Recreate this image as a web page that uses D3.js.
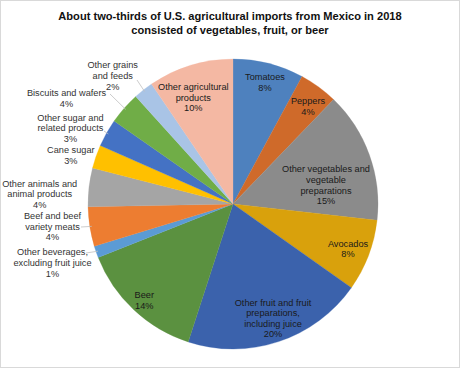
<!DOCTYPE html>
<html>
<head>
<meta charset="utf-8">
<script src="https://cdn.jsdelivr.net/npm/d3@7"></script>
<style>
  body { margin: 0; background: #fff; }
  svg { display: block; font-family: "Liberation Sans", Arial, sans-serif; }
</style>
</head>
<body>
<div id="chart"></div>
<script>
// Data: shares of U.S. agricultural imports from Mexico, 2018 (percent)
const categories = [
  "Tomatoes", "Peppers", "Other vegetables and vegetable preparations", "Avocados",
  "Other fruit and fruit preparations, including juice", "Beer",
  "Other beverages, excluding fruit juice", "Beef and beef variety meats",
  "Other animals and animal products", "Cane sugar", "Other sugar and related products",
  "Biscuits and wafers", "Other grains and feeds", "Other agricultural products"
];
const values = [7.9, 4.3, 14.6, 8.0, 20.2, 14.0, 1.3, 4.4, 4.3, 2.6, 3.1, 3.6, 2.2, 9.5];
const colors = [
  "#4e81be", "#cf6a2a", "#8b8b8b", "#d9a10c", "#3b62ac", "#5b9140", "#5b9bd5",
  "#ed7d31", "#a5a5a5", "#ffc000", "#4472c4", "#70ad47", "#a9c4e6", "#f4b8a3"
];
// Label line breaks, as in the original
const labelLines = [
  ["Tomatoes"], ["Peppers"], ["Other vegetables and", "vegetable", "preparations"], ["Avocados"],
  ["Other fruit and fruit", "preparations,", "including juice"], ["Beer"],
  ["Other beverages,", "excluding fruit juice"], ["Beef and beef", "variety meats"],
  ["Other animals and", "animal products"], ["Cane sugar"], ["Other sugar and", "related products"],
  ["Biscuits and wafers"], ["Other grains", "and feeds"], ["Other agricultural", "products"]
];

const width = 460, height = 368;
const cx = 233, cy = 204, radius = 145;

const svg = d3.select("#chart").append("svg")
  .attr("width", width)
  .attr("height", height);

// light frame around the picture
svg.append("rect")
  .attr("x", 0.5).attr("y", 0.5)
  .attr("width", width - 1).attr("height", height - 1)
  .attr("fill", "none")
  .attr("stroke", "#d9d9d9");

// Title
const title = svg.append("text")
  .attr("text-anchor", "middle")
  .style("font-size", "11.1px")
  .style("font-weight", "bold")
  .attr("fill", "#111");
title.append("tspan").attr("x", 230).attr("y", 20)
  .text("About two-thirds of U.S. agricultural imports from Mexico in 2018");
title.append("tspan").attr("x", 230).attr("y", 33.5)
  .text("consisted of vegetables, fruit, or beer");

const data = categories.map((c, i) => ({ name: c, value: values[i], color: colors[i], lines: labelLines[i] }));

const pie = d3.pie().sort(null).value(d => d.value);
const arcs = pie(data);
const arc = d3.arc().innerRadius(0).outerRadius(radius);

const g = svg.append("g").attr("transform", `translate(${cx},${cy})`);

// Slices (no separator lines)
g.selectAll("path")
  .data(arcs)
  .join("path")
  .attr("d", arc)
  .attr("fill", d => d.data.color)
  .attr("stroke", d => d.data.color)
  .attr("stroke-width", 0.3);

// Label layout: centre of the first text line; lead = label-side end of leader line
const labelPos = {
  "Tomatoes": { x: 265, y: 76.7, inside: true },
  "Peppers": { x: 308, y: 100.7, inside: true },
  "Other vegetables and vegetable preparations": { x: 326, y: 169, inside: true },
  "Avocados": { x: 348, y: 243.3, inside: true },
  "Other fruit and fruit preparations, including juice": { x: 273, y: 302.3, inside: true },
  "Beer": { x: 144.3, y: 295, inside: true },
  "Other beverages, excluding fruit juice": { x: 52.5, y: 252, lead: [86, 253] },
  "Beef and beef variety meats": { x: 52.5, y: 215.7, lead: [81, 227] },
  "Other animals and animal products": { x: 39.7, y: 183.3 },
  "Cane sugar": { x: 70.8, y: 150 },
  "Other sugar and related products": { x: 70.5, y: 117.3, lead: [104, 131] },
  "Biscuits and wafers": { x: 66.5, y: 92.7, lead: [110, 94] },
  "Other grains and feeds": { x: 112.7, y: 65, lead: [137, 80] },
  "Other agricultural products": { x: 193.3, y: 86.7, inside: true }
};

const lineH = 10.6;
arcs.forEach(d => {
  const pos = labelPos[d.data.name];
  const mid = (d.startAngle + d.endAngle) / 2;
  const lines = d.data.lines.concat([Math.round(d.data.value) + "%"]);

  if (pos.lead) {
    svg.append("line")
      .attr("x1", pos.lead[0]).attr("y1", pos.lead[1])
      .attr("x2", cx + Math.sin(mid) * (radius - 2))
      .attr("y2", cy - Math.cos(mid) * (radius - 2))
      .attr("stroke", "#bfbfbf")
      .attr("stroke-width", 0.8);
  }

  const t = svg.append("text")
    .attr("text-anchor", "middle")
    .style("font-size", "9.2px")
    .attr("fill", pos.inside ? "#1a1a1a" : "#333");
  lines.forEach((l, i) => {
    t.append("tspan")
      .attr("x", pos.x)
      .attr("y", pos.y + i * lineH + 3.3)
      .text(l);
  });
});
</script>
</body>
</html>
